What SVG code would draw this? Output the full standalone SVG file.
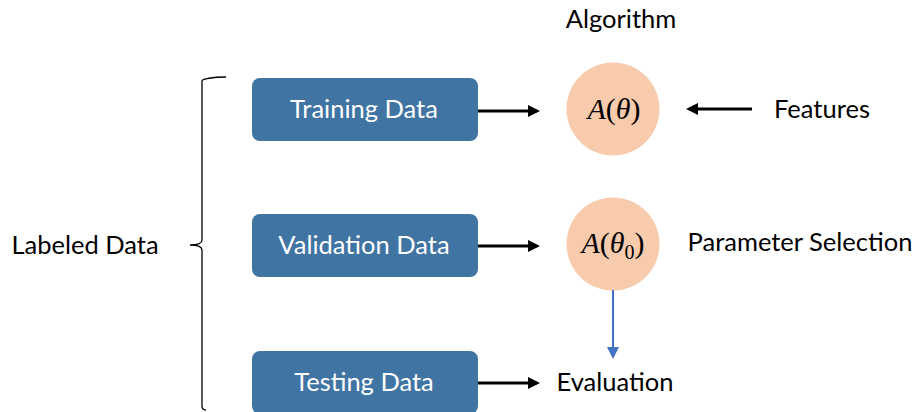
<svg xmlns="http://www.w3.org/2000/svg" width="917" height="412" viewBox="0 0 917 412">
<defs>
<style>
.box{fill:#3f74a3;}
.bt{font-family:Lato,"Open Sans",sans-serif;font-size:25.5px;fill:#ffffff;text-anchor:middle;}
.lb{font-family:Lato,"Open Sans",sans-serif;font-size:25.5px;fill:#000000;}
.circ{fill:#f7cbac;}
.m{font-family:"Liberation Serif",serif;font-size:30px;fill:#000;text-anchor:middle;}
.ar{stroke:#000;stroke-width:3;fill:none;}
</style>
<marker id="ah" markerWidth="4" markerHeight="4" refX="3" refY="2" orient="auto" markerUnits="strokeWidth">
<path d="M0,0 L4,2 L0,4 Z" fill="#000"/>
</marker>
<marker id="ahb" markerWidth="6" markerHeight="6" refX="5" refY="3" orient="auto" markerUnits="strokeWidth">
<path d="M0,0 L6,3 L0,6 Z" fill="#4472c4"/>
</marker>
</defs>
<rect width="917" height="412" fill="#fff"/>
<g id="brace">
<path d="M226,77 C212,77 202,79 202,81 L202,240 C202,243 198,245 190,245 C198,245 202,247 202,250 L202,406 C202,409 204,410 206,410" fill="none" stroke="#000" stroke-width="1.3"/>
</g>
<g id="labeled">
<text class="lb" x="85" y="254" text-anchor="middle">Labeled Data</text>
</g>
<g id="training">
<rect class="box" x="252" y="78" width="226" height="63" rx="8"/>
<text class="bt" x="364" y="118">Training Data</text>
</g>
<g id="validation">
<rect class="box" x="252" y="214" width="226" height="63" rx="8"/>
<text class="bt" x="364" y="254">Validation Data</text>
</g>
<g id="testing">
<rect class="box" x="252" y="351" width="226" height="63" rx="8"/>
<text class="bt" x="364" y="391">Testing Data</text>
</g>
<g id="alg1">
<circle class="circ" cx="613" cy="109" r="46.5"/>
<text class="m" x="614" y="119"><tspan font-style="italic">A</tspan>(<tspan font-style="italic">θ</tspan>)</text>
</g>
<g id="alg2">
<circle class="circ" cx="613" cy="244" r="46.5"/>
<text class="m" x="613" y="253"><tspan font-style="italic">A</tspan>(<tspan font-style="italic">θ</tspan><tspan font-size="20" dy="6">0</tspan><tspan dy="-6">)</tspan></text>
</g>
<g id="algorithm-label"><text class="lb" x="621" y="28" text-anchor="middle">Algorithm</text></g>
<g id="features"><text class="lb" x="822" y="118" text-anchor="middle">Features</text></g>
<g id="param"><text class="lb" x="800" y="251" text-anchor="middle">Parameter Selection</text></g>
<g id="evaluation"><text class="lb" x="615" y="391" text-anchor="middle">Evaluation</text></g>
<g id="connectors">
<line class="ar" x1="478" y1="111" x2="537" y2="111" marker-end="url(#ah)"/>
<line class="ar" x1="478" y1="246" x2="537" y2="246" marker-end="url(#ah)"/>
<line class="ar" x1="478" y1="383" x2="537" y2="383" marker-end="url(#ah)"/>
<line class="ar" x1="752" y1="109" x2="689" y2="109" marker-end="url(#ah)"/>
<line x1="613" y1="290" x2="613" y2="357" stroke="#4472c4" stroke-width="2" marker-end="url(#ahb)"/>
</g>
</svg>
